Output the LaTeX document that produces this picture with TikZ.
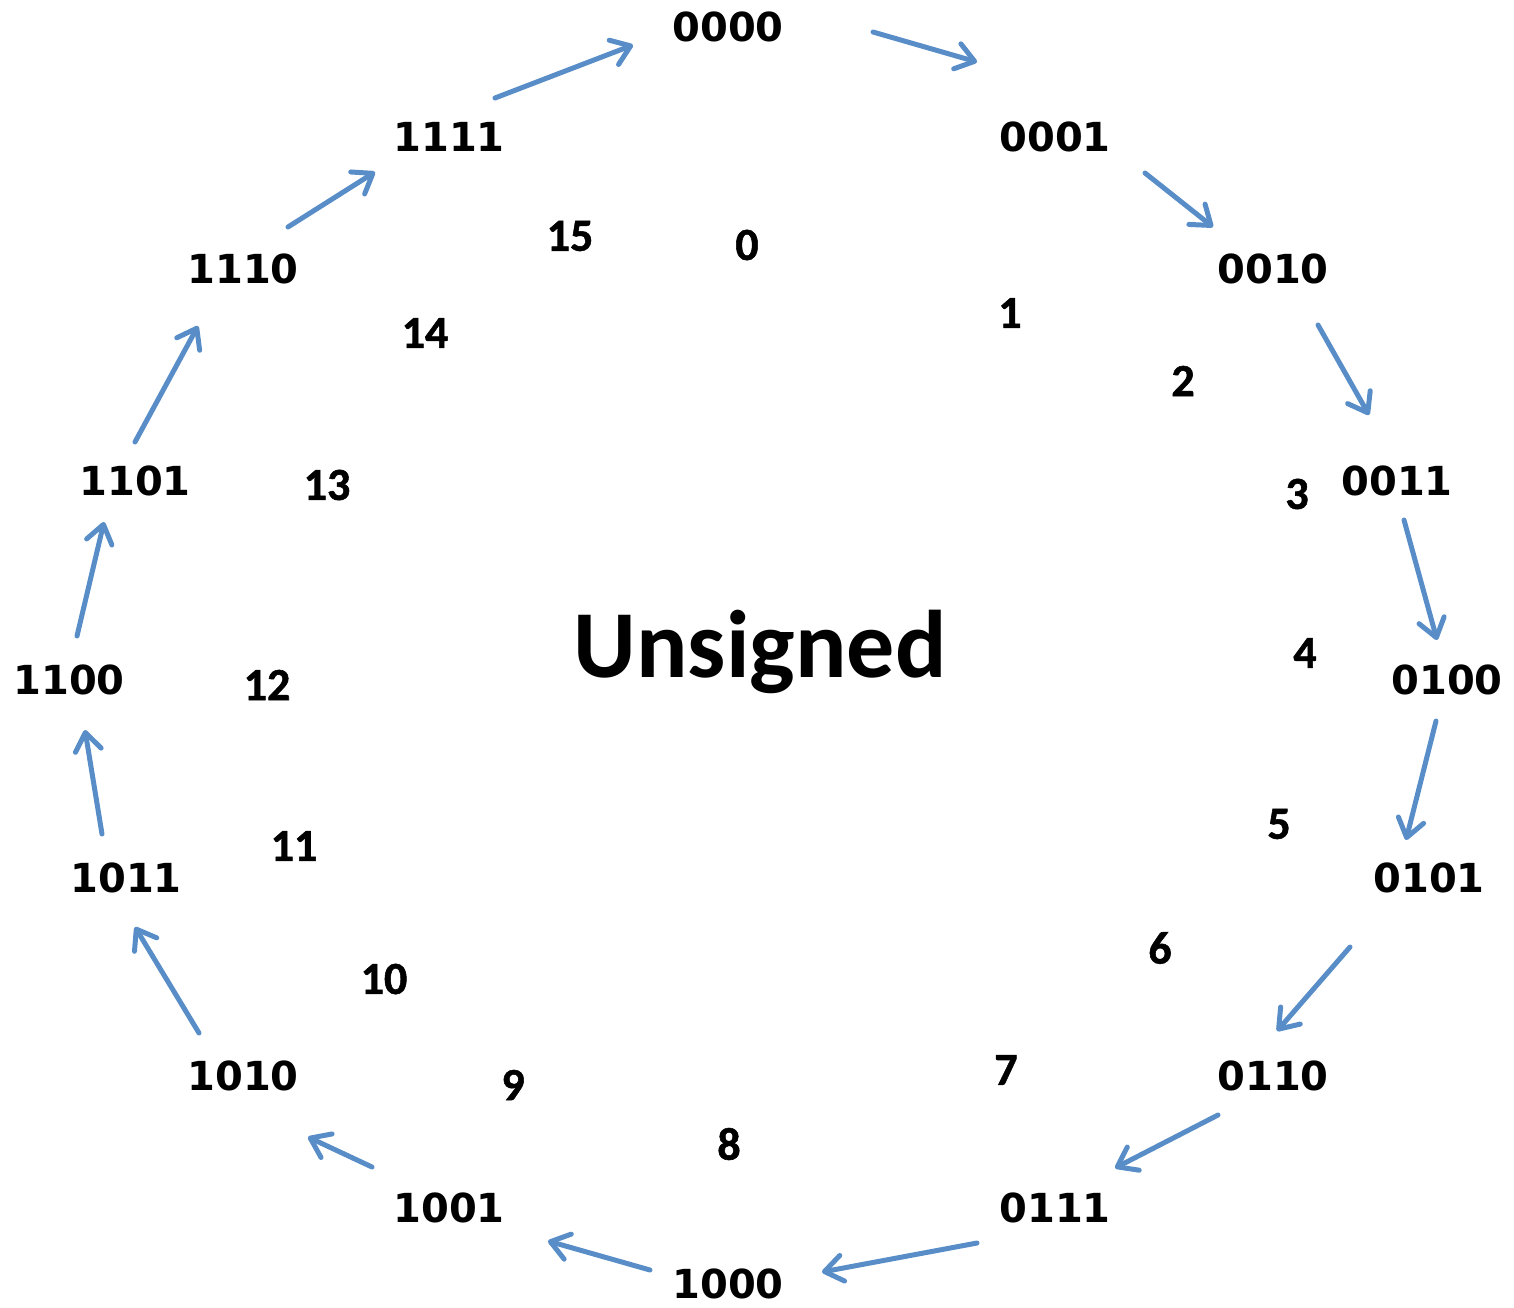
\documentclass[tikz,border=0pt]{standalone}
\usepackage{fontspec}
\usetikzlibrary{arrows.meta}
\newfontfamily\binfont{DejaVu Sans Bold}
\newfontfamily\numfont{Carlito Bold}
\newfontfamily\decfont[FakeBold=1.2]{Carlito Bold}
\definecolor{arrowblue}{RGB}{88,141,200}
\begin{document}
\begin{tikzpicture}[x=0.5pt,y=-0.5pt,
  bin/.style={font=\binfont\fontsize{20}{20}\selectfont, inner sep=0pt, anchor=center},
  dec/.style={font=\decfont\fontsize{23}{23}\selectfont, inner sep=0pt, anchor=center},
  flow/.style={draw=arrowblue, line width=2.5pt, line cap=round,
    -{Straight Barb[length=9pt,width=13pt,line width=2.5pt,round]}}]
\useasboundingbox (0,0) rectangle (1514,1307);
% binary labels
\node[bin] (b0) at (728,27) {0000};
\node[bin] (b1) at (1055,137) {0001};
\node[bin] (b2) at (1273,269) {0010};
\node[bin] (b3) at (1397,481) {0011};
\node[bin] (b4) at (1447,680) {0100};
\node[bin] (b5) at (1429,878) {0101};
\node[bin] (b6) at (1273,1076) {0110};
\node[bin] (b7) at (1055,1208) {0111};
\node[bin] (b8) at (728,1284) {1000};
\node[bin] (b9) at (449,1208) {1001};
\node[bin] (b10) at (243,1076) {1010};
\node[bin] (b11) at (126,878) {1011};
\node[bin] (b12) at (69,680) {1100};
\node[bin] (b13) at (135,481) {1101};
\node[bin] (b14) at (243,269) {1110};
\node[bin] (b15) at (449,137) {1111};
% decimal labels
\node[dec] (d0) at (747,245) {0};
\node[dec] (d1) at (1010,313) {1};
\node[dec] (d2) at (1183,381) {2};
\node[dec] (d3) at (1297,494) {3};
\node[dec] (d4) at (1305,653) {4};
\node[dec] (d5) at (1279,824) {5};
\node[dec] (d6) at (1160,948) {6};
\node[dec] (d7) at (1006,1070) {7};
\node[dec] (d8) at (729,1144) {8};
\node[dec] (d9) at (513,1085) {9};
\node[dec] (d10) at (384,979) {10};
\node[dec] (d11) at (294,846) {11};
\node[dec] (d12) at (267,685) {12};
\node[dec] (d13) at (327,485) {13};
\node[dec] (d14) at (425,333) {14};
\node[dec] (d15) at (570,236) {15};
% title
\node[font=\numfont\fontsize{48}{48}\selectfont, inner sep=0pt, anchor=base] (title) at (760,677) {Unsigned};
% arrow endpoints
\coordinate (s0) at (495,98);   \coordinate (e0) at (633,45);
\coordinate (s1) at (873,32);   \coordinate (e1) at (977,62);
\coordinate (s2) at (1145,173); \coordinate (e2) at (1213,227);
\coordinate (s3) at (1318,325); \coordinate (e3) at (1369,415);
\coordinate (s4) at (1404,520); \coordinate (e4) at (1437,640);
\coordinate (s5) at (1436,721); \coordinate (e5) at (1406,840);
\coordinate (s6) at (1350,947); \coordinate (e6) at (1277,1031);
\coordinate (s7) at (1218,1115); \coordinate (e7) at (1115,1168);
\coordinate (s8) at (977,1243); \coordinate (e8) at (822,1272);
\coordinate (s9) at (650,1270); \coordinate (e9) at (548,1241);
\coordinate (s10) at (372,1167); \coordinate (e10) at (308,1137);
\coordinate (s11) at (199,1033); \coordinate (e11) at (135,927);
\coordinate (s12) at (102,834); \coordinate (e12) at (85,730);
\coordinate (s13) at (77,636);  \coordinate (e13) at (104,522);
\coordinate (s14) at (135,442); \coordinate (e14) at (198,326);
\coordinate (s15) at (288,227); \coordinate (e15) at (375,172);
\foreach \i in {0,...,15} { \draw[flow] (s\i) -- (e\i); }
\end{tikzpicture}
\end{document}
